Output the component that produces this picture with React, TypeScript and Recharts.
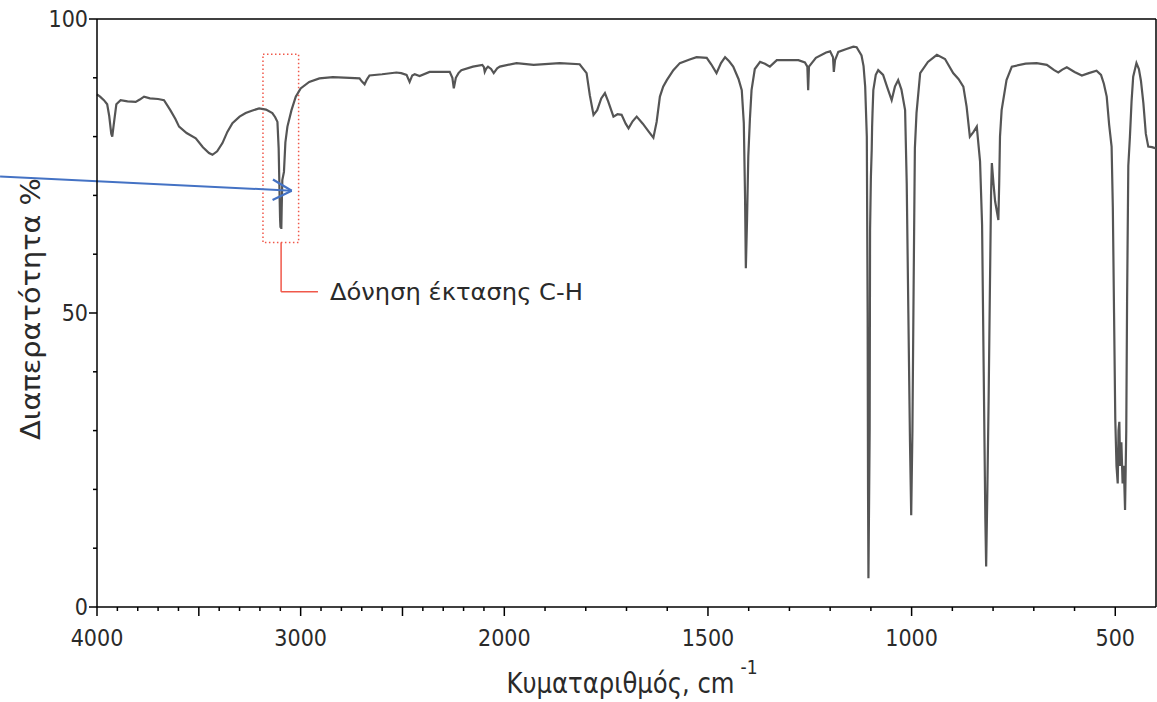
import React from 'react';
import { LineChart, Line, XAxis, YAxis, ReferenceLine, ReferenceArea } from 'recharts';

// IR spectrum: wavenumber (cm^-1) and transmittance (%)
const wavenumbers = [
  4000, 3985, 3966, 3950, 3940, 3930, 3925, 3918, 3905, 3884, 3850, 3810, 3790, 3769, 3740, 3700, 3671, 3640, 3615, 3597,
  3560, 3515, 3480, 3450, 3433, 3410, 3384, 3360, 3335, 3300, 3270, 3240, 3204, 3170, 3139, 3125, 3114, 3108, 3104, 3101,
  3099, 3097, 3095, 3093, 3090, 3082, 3075, 3065, 3045, 3024, 3000, 2958, 2908, 2842, 2760, 2711, 2700, 2686, 2675, 2662,
  2600, 2530, 2506, 2480, 2465, 2452, 2440, 2416, 2367, 2268, 2255, 2248, 2238, 2225, 2211, 2154, 2108, 2100, 2096, 2088,
  2080, 2065, 2052, 2035, 2022, 1970, 1928, 1864, 1815, 1798, 1790, 1781, 1772, 1762, 1753, 1745, 1732, 1722, 1712, 1702,
  1695, 1685, 1675, 1660, 1645, 1634, 1626, 1618, 1610, 1601, 1585, 1569, 1545, 1528, 1503, 1492, 1479, 1468, 1458, 1448,
  1438, 1425, 1417, 1412, 1409, 1407, 1404, 1401, 1397, 1393, 1385, 1372, 1360, 1348, 1331, 1278, 1262, 1256, 1254, 1252,
  1235, 1210, 1200, 1193, 1191, 1188, 1180, 1160, 1143, 1135, 1123, 1118, 1114, 1110, 1108, 1107, 1106, 1103, 1102, 1100,
  1098, 1097, 1096, 1094, 1088, 1082, 1070, 1060, 1049, 1041, 1033, 1025, 1016, 1012, 1008, 1004, 1001, 998, 995, 992,
  988, 979, 960, 938, 918, 898, 885, 873, 865, 857, 848, 840, 832, 827, 823, 819, 817, 814, 811, 808,
  805, 803, 799, 795, 790, 787, 785, 783, 779, 767, 754, 720, 693, 668, 650, 640, 630, 619, 600, 582,
  565, 546, 535, 528, 521, 515, 509, 506, 503, 500, 497, 494, 492, 490, 488, 485, 482, 479, 476, 473,
  471, 468, 464, 460, 456, 448, 442, 437, 431, 425, 419, 410, 400,
];
const transmittance = [
  87.2, 86.8, 86.2, 85.5, 83.5, 80.5, 80.0, 82.0, 85.5, 86.2, 86.0, 85.9, 86.3, 86.8, 86.5, 86.4, 86.2, 84.5, 83.0, 81.7,
  80.6, 79.7, 78.2, 77.2, 76.9, 77.5, 78.9, 80.8, 82.3, 83.4, 84.0, 84.4, 84.8, 84.6, 84.0, 83.3, 82.5, 78.0, 71.0, 66.0,
  64.5, 67.5, 64.3, 68.0, 72.6, 74.0, 79.0, 81.7, 84.5, 86.8, 88.2, 89.3, 89.9, 90.1, 90.0, 89.9, 89.4, 88.9, 89.7, 90.4,
  90.6, 90.9, 90.8, 90.5, 89.3, 90.4, 90.6, 90.3, 91.0, 91.0, 90.0, 88.2, 90.0, 90.8, 91.3, 91.9, 92.2, 91.8, 91.0, 91.6,
  91.9, 91.5, 90.8, 91.6, 91.9, 92.5, 92.2, 92.5, 92.3, 90.8, 87.0, 83.7, 84.5, 86.5, 87.4, 86.0, 83.4, 83.8, 83.7, 82.2,
  81.4, 82.6, 83.4, 82.2, 80.8, 79.8, 82.5, 86.8, 88.5, 89.6, 91.3, 92.5, 93.1, 93.5, 93.4, 92.3, 90.8, 92.5, 93.5, 92.8,
  91.9, 89.8, 87.9, 82.3, 70.0, 57.6, 66.0, 76.6, 83.0, 87.9, 91.5, 92.7, 92.4, 91.9, 93.0, 93.0, 92.6, 91.9, 87.9, 91.9,
  93.4, 94.3, 94.5, 93.5, 91.0, 93.0, 94.4, 94.9, 95.3, 95.2, 93.8, 92.0, 88.5, 80.0, 50.0, 20.0, 4.9, 30.0, 64.0, 73.1,
  77.7, 81.6, 84.0, 87.9, 90.5, 91.3, 90.5, 88.4, 86.2, 88.5, 89.6, 88.0, 84.5, 72.0, 50.0, 28.0, 15.6, 30.0, 55.0, 78.0,
  84.0, 90.8, 92.7, 93.9, 93.2, 90.8, 89.8, 88.5, 85.1, 80.0, 80.8, 81.7, 75.8, 65.0, 40.0, 15.0, 6.9, 20.0, 35.0, 52.8,
  70.0, 75.5, 72.0, 69.0, 67.0, 65.8, 72.0, 80.0, 84.5, 89.6, 91.9, 92.4, 92.5, 92.2, 91.3, 90.9, 91.4, 91.8, 91.0, 90.4,
  90.8, 91.2, 90.5, 89.0, 86.8, 82.0, 78.3, 68.0, 50.0, 32.0, 24.0, 21.0, 30.0, 31.5, 24.0, 28.0, 21.0, 24.0, 16.5, 30.0,
  52.0, 75.0, 80.0, 86.0, 90.2, 92.5, 91.5, 89.5, 85.7, 80.5, 78.3, 78.2, 78.0,
];

const xTickWavenumbers = [
  4000, 3900, 3800, 3700, 3600, 3500, 3400, 3300, 3200, 3100, 3000, 2900, 2800, 2700, 2600, 2500, 2400, 2300, 2200, 2100,
  2000, 1900, 1800, 1700, 1600, 1500, 1400, 1300, 1200, 1100, 1000, 900, 800, 700, 600, 500,
];
const xLabelWavenumbers = [4000, 3000, 2000, 1500, 1000, 500];
const yTicks = [0, 10, 20, 30, 40, 50, 60, 70, 80, 90, 100];
const yLabelTicks = [0, 50, 100];

// annotation anchors (wavenumber, transmittance)
const boxRange = { wFrom: 3185, wTo: 3010, tFrom: 62, tTo: 94 };
const connector = { w: 3096, tTop: 62, tBottom: 53.6, wEnd: 2915 };
const arrowStart = { w: 4476, t: 73.2 };
const arrowTip = { w: 3044, t: 70.8 };
const arrowWingA = { w: 3136, t: 72.7 };
const arrowWingB = { w: 3138, t: 69.2 };

const annotationText = 'Δόνηση έκτασης C-H';
const xTitle = 'Κυματαριθμός, cm';
const xTitleSup = '-1';
const yTitle = 'Διαπερατότητα %';

// split scale: 4000-2000 cm-1 drawn at half the density of 2000-400 cm-1
const BREAK = 2000;
const toPos = (w: number) => (w >= BREAK ? (4000 - w) / 2 : 1000 + (BREAK - w));
const fromPos = (u: number) => (u <= 1000 ? 4000 - 2 * u : BREAK - (u - 1000));

const data = wavenumbers.map((w, i) => ({ pos: toPos(w), t: transmittance[i] }));

const FONT = "'DejaVu Sans Condensed', 'DejaVu Sans', sans-serif";
const TEXT = '#2a2a2a';
const RED = '#f0584a';
const BLUE = '#4472c4';

const XTick = (props: any) => {
  const { x, y, payload } = props;
  const w = Math.round(fromPos(payload.value));
  const major = w % 500 === 0;
  return (
    <g>
      <line x1={x} x2={x} y1={y} y2={y + (major ? 9 : 4)} stroke="#000" strokeWidth={1.5} />
      {xLabelWavenumbers.includes(w) && (
        <text x={x} y={y + 39} textAnchor="middle" fontSize={23} fill={TEXT} fontFamily={FONT} fontStretch="condensed">
          {w}
        </text>
      )}
    </g>
  );
};

const YTick = (props: any) => {
  const { x, y, payload } = props;
  const v = payload.value;
  const major = yLabelTicks.includes(v);
  return (
    <g>
      <line x1={x} x2={x - (major ? 8 : 4)} y1={y} y2={y} stroke="#000" strokeWidth={1.5} />
      {major && (
        <text x={x - 9} y={y + 8} textAnchor="end" fontSize={23} fill={TEXT} fontFamily={FONT} fontStretch="condensed">
          {v}
        </text>
      )}
    </g>
  );
};

const XTitle = (props: any) => {
  const vb = props.viewBox || { x: 97, y: 607, width: 1059, height: 95 };
  const cx = vb.x + vb.width / 2;
  const base = vb.y + 86;
  return (
    <g>
      <text x={cx - 120} y={base} fontSize={28} fill={TEXT} fontFamily={FONT} fontStretch="condensed"
        textLength={228} lengthAdjust="spacingAndGlyphs">
        {xTitle}
      </text>
      <text x={cx + 114} y={base - 19} fontSize={19} fill={TEXT} fontFamily={FONT} fontStretch="condensed">
        {xTitleSup}
      </text>
    </g>
  );
};

const YTitle = (props: any) => {
  const vb = props.viewBox || { x: 0, y: 19, width: 97, height: 588 };
  const cy = vb.y + vb.height / 2 - 4;
  const cx = 40;
  return (
    <text x={cx} y={cy} transform={`rotate(-90 ${cx} ${cy})`} textAnchor="middle" fontSize={27} fill={TEXT}
      fontFamily={FONT} fontStretch="condensed" textLength={262} lengthAdjust="spacingAndGlyphs">
      {yTitle}
    </text>
  );
};

const AnnotationLabel = (props: any) => {
  const vb = props.viewBox || { x: 0, y: 0, width: 0, height: 0 };
  return (
    <text x={vb.x + vb.width + 12} y={vb.y + 8} fontSize={23} fill={TEXT} fontFamily={FONT} fontStretch="condensed"
      textLength={253} lengthAdjust="spacingAndGlyphs">
      {annotationText}
    </text>
  );
};

const pt = (w: number, t: number) => ({ x: toPos(w), y: t });

export default function App() {
  return (
    <div style={{ position: 'absolute', left: 0, top: 0, width: 1157, height: 702, background: '#fff' }}>
      <LineChart width={1157} height={702} data={data} margin={{ top: 19, right: 1, bottom: 0, left: 0 }}>
        <XAxis
          dataKey="pos"
          type="number"
          domain={[0, 2600]}
          ticks={xTickWavenumbers.map(toPos)}
          interval={0}
          tickSize={0}
          tickMargin={0}
          tickLine={false}
          tick={<XTick />}
          height={95}
          axisLine={{ stroke: '#000', strokeWidth: 1.5 }}
          label={(p: any) => <XTitle {...p} />}
        />
        <YAxis
          type="number"
          domain={[0, 100]}
          ticks={yTicks}
          interval={0}
          tickSize={0}
          tickMargin={0}
          tickLine={false}
          tick={<YTick />}
          width={97}
          axisLine={{ stroke: '#000', strokeWidth: 1.5 }}
          label={(p: any) => <YTitle {...p} />}
        />
        <ReferenceLine y={100} stroke="#000" strokeWidth={1.5} ifOverflow="visible" />
        <ReferenceLine x={2600} stroke="#000" strokeWidth={1.5} ifOverflow="visible" />
        <Line
          type="linear"
          dataKey="t"
          stroke="#555555"
          strokeWidth={2.2}
          dot={false}
          isAnimationActive={false}
        />
        <ReferenceArea
          x1={toPos(boxRange.wFrom)}
          x2={toPos(boxRange.wTo)}
          y1={boxRange.tFrom}
          y2={boxRange.tTo}
          stroke={RED}
          strokeWidth={1.5}
          strokeDasharray="1.5 2.5"
          fill="none"
          fillOpacity={0}
          ifOverflow="visible"
        />
        <ReferenceLine
          segment={[pt(connector.w, connector.tTop), pt(connector.w, connector.tBottom)]}
          stroke={RED}
          strokeWidth={1.5}
          ifOverflow="visible"
        />
        <ReferenceLine
          segment={[pt(connector.w, connector.tBottom), pt(connector.wEnd, connector.tBottom)]}
          stroke={RED}
          strokeWidth={1.5}
          ifOverflow="visible"
          label={(p: any) => <AnnotationLabel {...p} />}
        />
        <ReferenceLine
          segment={[pt(arrowStart.w, arrowStart.t), pt(arrowTip.w, arrowTip.t)]}
          stroke={BLUE}
          strokeWidth={2}
          ifOverflow="visible"
        />
        <ReferenceLine
          segment={[pt(arrowWingA.w, arrowWingA.t), pt(arrowTip.w, arrowTip.t)]}
          stroke={BLUE}
          strokeWidth={2.2}
          ifOverflow="visible"
        />
        <ReferenceLine
          segment={[pt(arrowWingB.w, arrowWingB.t), pt(arrowTip.w, arrowTip.t)]}
          stroke={BLUE}
          strokeWidth={2.2}
          ifOverflow="visible"
        />
      </LineChart>
    </div>
  );
}
